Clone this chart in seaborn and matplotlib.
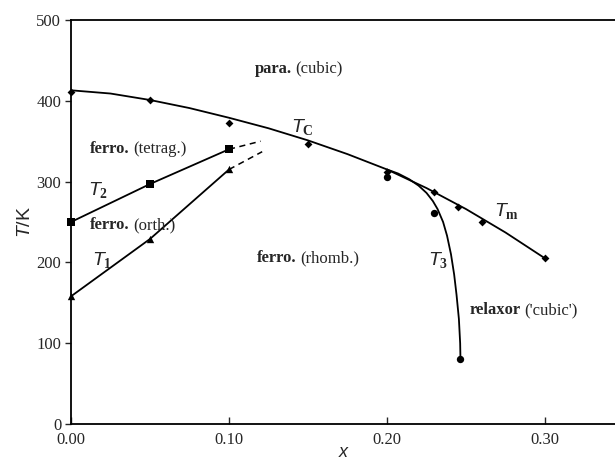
import matplotlib
matplotlib.use("Agg")
import matplotlib.pyplot as plt
import seaborn as sns

# ---- data ----
tc_x = [0.00, 0.05, 0.10, 0.15, 0.20, 0.23, 0.245, 0.26, 0.30]
tc_T = [411, 401, 373, 347, 312, 287, 268, 250, 205]

tc_curve_x = [0.00, 0.025, 0.05, 0.075, 0.10, 0.125, 0.15, 0.175, 0.20, 0.225, 0.25, 0.275, 0.30]
tc_curve_T = [413, 409, 401, 391, 379, 366, 351, 334, 315, 292, 266, 237, 205]

t3_x = [0.20, 0.23, 0.2465]
t3_T = [306, 261, 80]
t3_curve_x = [0.200, 0.207, 0.214, 0.220, 0.225, 0.229, 0.232, 0.2355, 0.238,
              0.2405, 0.2425, 0.244, 0.2455, 0.2463, 0.2465]
t3_curve_T = [315, 310, 303, 295, 286, 276, 266, 250, 233, 210, 185, 160, 130, 100, 80]

t2_x = [0.00, 0.05, 0.10]
t2_T = [250, 297, 340]
t2_dash_x = [0.10, 0.12]
t2_dash_T = [340, 350]

t1_x = [0.00, 0.05, 0.10]
t1_T = [158, 229, 315]
t1_dash_x = [0.10, 0.121]
t1_dash_T = [315, 337]

x_ticks = [0.00, 0.10, 0.20, 0.30]
x_ticklabels = ["0.00", "0.10", "0.20", "0.30"]
y_ticks = [0, 100, 200, 300, 400, 500]

sns.set_style("ticks")
plt.rcParams["font.family"] = ["Liberation Serif", "DejaVu Serif"]
plt.rcParams["mathtext.fontset"] = "custom"
plt.rcParams["mathtext.rm"] = "Liberation Serif"
plt.rcParams["mathtext.it"] = "Liberation Sans:italic"
plt.rcParams["mathtext.bf"] = "Liberation Serif:bold"

fig = plt.figure(figsize=(6.15, 4.63), dpi=100)
ax = fig.add_axes([71/615, 39/463, 1 - 71/615, 404/463])

lw = 1.3
k = "black"
sns.lineplot(x=tc_curve_x, y=tc_curve_T, ax=ax, color=k, lw=lw, sort=False)
sns.lineplot(x=t3_curve_x, y=t3_curve_T, ax=ax, color=k, lw=lw, sort=False)
sns.lineplot(x=t2_x, y=t2_T, ax=ax, color=k, lw=lw, sort=False)
sns.lineplot(x=t1_x, y=t1_T, ax=ax, color=k, lw=lw, sort=False)
ax.plot(t2_dash_x, t2_dash_T, color=k, lw=1.1, ls=(0, (4, 3)))
ax.plot(t1_dash_x, t1_dash_T, color=k, lw=1.1, ls=(0, (4, 3)))

sns.scatterplot(x=tc_x, y=tc_T, ax=ax, color=k, marker="D", s=16, edgecolor=k, linewidth=0, zorder=5, clip_on=False)
sns.scatterplot(x=t3_x, y=t3_T, ax=ax, color=k, marker="o", s=28, edgecolor=k, linewidth=0, zorder=5, clip_on=False)
sns.scatterplot(x=t2_x, y=t2_T, ax=ax, color=k, marker="s", s=26, edgecolor=k, linewidth=0, zorder=5, clip_on=False)
sns.scatterplot(x=t1_x, y=t1_T, ax=ax, color=k, marker="^", s=28, edgecolor=k, linewidth=0, zorder=5, clip_on=False)

ax.set_xlim(0, 0.3443)
ax.set_ylim(0, 500)
ax.set_xticks(x_ticks)
ax.set_xticklabels(x_ticklabels)
ax.set_yticks(y_ticks)
ax.tick_params(axis="x", direction="in", length=5, labelsize=12, pad=6, width=1)
ax.tick_params(axis="y", direction="out", length=4, labelsize=12, pad=3, width=1)
for s in ["left", "bottom", "top"]:
    ax.spines[s].set_linewidth(1.3)
    ax.spines[s].set_color(k)
ax.spines["right"].set_visible(False)

ax.set_xlabel("x", fontfamily="Liberation Sans", fontstyle="italic", fontsize=13, labelpad=-3)
ax.set_ylabel(r"$\mathit{T}$/K", fontfamily="Liberation Sans", fontsize=14, labelpad=2)

fs = 12
def region(x, y, bold, rest):
    t = ax.text(x, y, bold, fontsize=fs, fontweight="bold", ha="left", va="bottom")
    ax.annotate(rest, xy=(1, 0), xycoords=t, xytext=(2.5, 0), textcoords="offset points",
                fontsize=fs, ha="left", va="bottom")

region(0.1165, 430, "para.", "(cubic)")
region(0.012, 331, "ferro.", "(tetrag.)")
region(0.012, 236, "ferro.", "(orth.)")
region(0.1177, 195, "ferro.", "(rhomb.)")
region(0.2525, 131, "relaxor", "('cubic')")

def tlabel(x, y, sub):
    ax.text(x, y, r"$\mathit{T}_{\mathbf{" + sub + "}}$", fontsize=14, ha="left", va="center")

tlabel(0.139, 367, "C")
tlabel(0.011, 289, "2")
tlabel(0.013, 203, "1")
tlabel(0.226, 203, "3")
tlabel(0.268, 263, "m")

fig.savefig("out.png", dpi=100)
